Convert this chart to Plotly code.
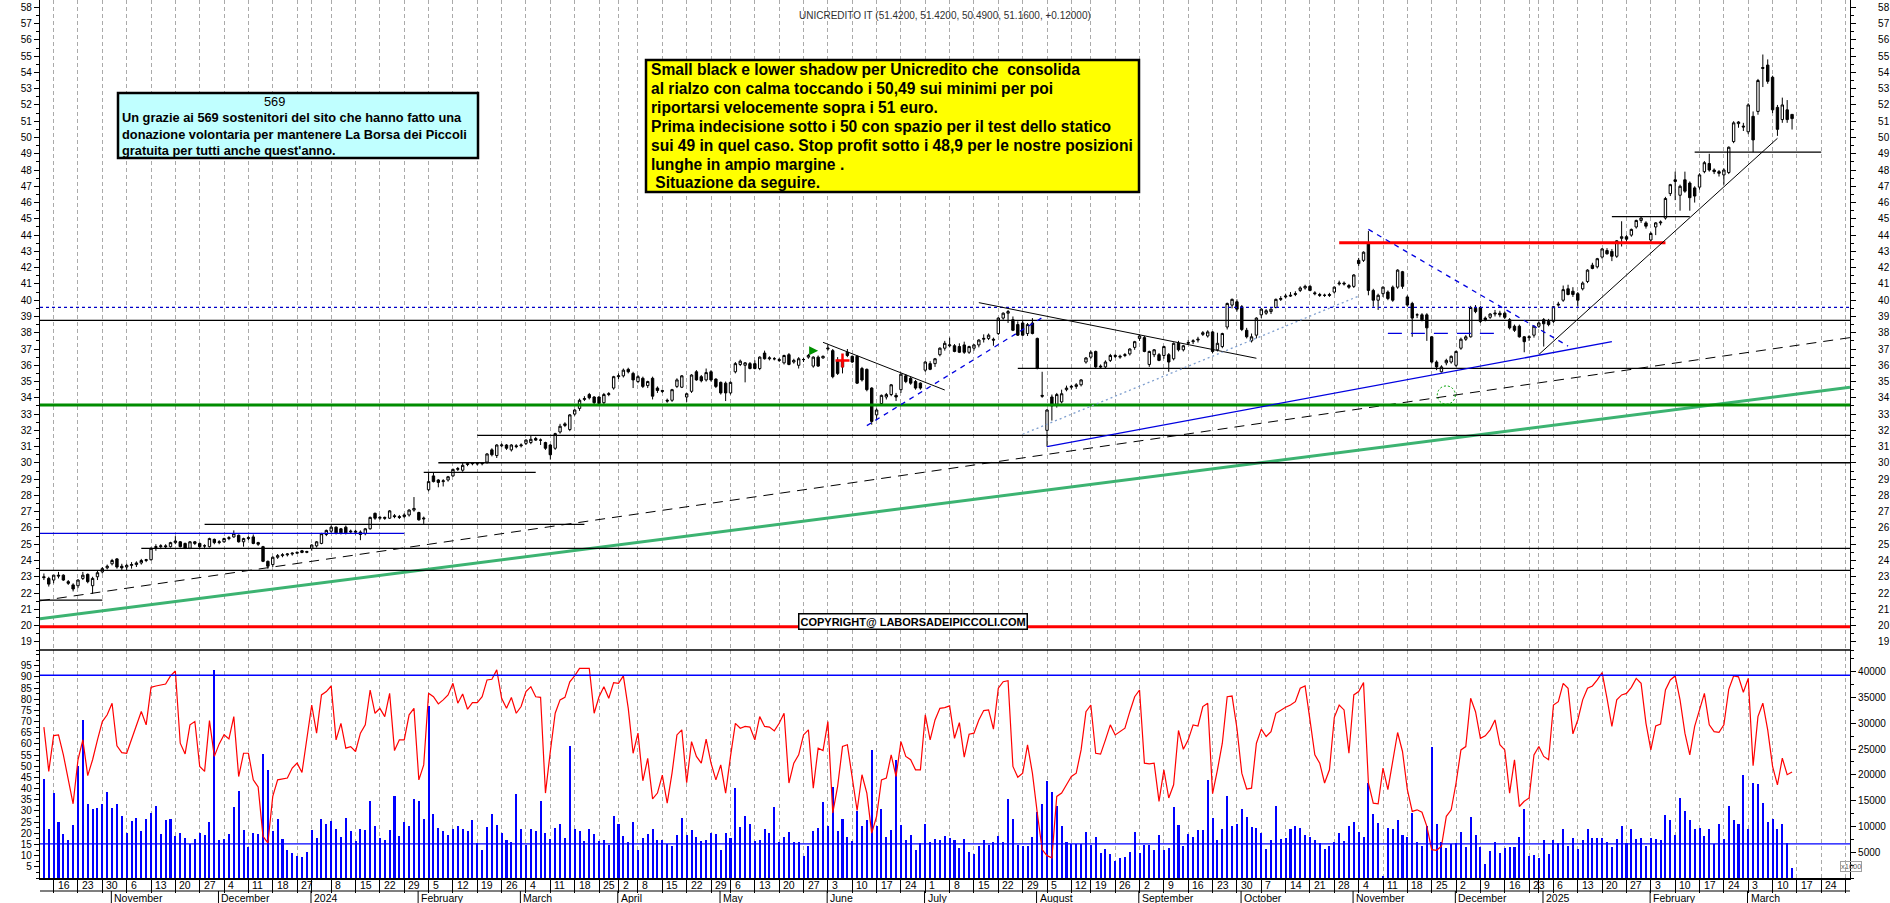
import numpy as np
import pandas as pd
import plotly.graph_objects as go

# ---------------------------------------------------------------- data
TITLE = "UNICREDITO IT (51.4200, 51.4200, 50.4900, 51.1600, +0.12000)"
HOLIDAYS = ["2023-12-25", "2023-12-26", "2024-01-01", "2024-03-29", "2024-04-01",
            "2024-05-01", "2024-08-15", "2024-12-24", "2024-12-25", "2024-12-26",
            "2024-12-31", "2025-01-01"]
FIRST_DAY, AXIS_END_DAY = "2023-10-12", "2025-03-31"

opens = [
    23.0, 22.9, 22.8, 23.1, 23.1, 22.7, 22.5, 22.45, 22.9, 23.15, 22.45, 23.0, 23.3, 23.55,
    23.8, 24.1, 23.65, 23.6, 23.7, 23.75, 23.85, 24.0, 24.05, 24.8, 24.85, 24.9, 24.85, 25.1, 25.15, 25.05, 24.75, 25.15, 25.05, 24.9, 24.85, 25.3,
    25.1, 25.15, 25.35, 25.45, 25.55, 25.15, 25.35, 25.45, 25.1, 24.85, 23.95, 23.75, 24.2, 24.3, 24.35, 24.4, 24.45, 24.6, 24.5,
    24.75, 24.9, 25.05, 25.6, 25.8, 26.05, 25.95, 26.05, 25.75, 25.8, 25.75, 25.65, 25.95, 26.9, 26.6, 26.65, 26.6, 26.75, 26.7, 26.7, 26.8, 27.1,
    26.95, 26.55, 28.35, 29.2, 28.95, 28.85, 28.95, 29.2, 29.6, 29.55, 29.9, 29.95, 29.95, 29.95, 30.05, 30.8, 30.45, 31.05, 31.1, 30.8, 31.05,
    31.05, 31.2, 31.25, 31.5, 31.4, 31.25, 31.1, 30.9, 31.9, 32.3, 32.05, 33.0, 33.35, 33.9, 34.2, 34.05, 34.05, 33.7, 34.2, 34.6,
    35.3, 35.35, 35.75, 35.5, 35.0, 35.2, 34.75, 35.2, 34.6, 34.45, 33.85, 33.85, 34.7, 34.65, 34.05, 34.4, 35.6, 35.3, 35.1, 35.6, 35.15,
    34.95, 34.9, 34.3, 35.6, 36.05, 36.0, 36.1, 36.1, 35.8, 36.75, 36.4, 36.4, 36.35, 36.15, 36.65, 36.2, 36.0, 36.35, 36.5, 35.95, 36.5, 36.45,
    37.0, 36.9, 36.3, 35.9, 36.8, 36.55, 36.55, 35.8, 35.75, 34.6, 32.95, 33.65, 34.05, 34.2, 34.15, 34.5, 35.35, 35.2, 35.0, 34.9,
    35.7, 36.1, 36.1, 36.65, 37.05, 37.2, 37.2, 37.15, 37.25, 36.8, 37.05, 37.25, 37.6, 37.65, 37.6, 37.95, 38.9, 39.2, 38.8, 38.5, 38.6, 37.95, 38.6,
    37.65, 34.15, 32.0, 34.05, 33.6, 33.75, 34.5, 34.65, 34.7, 34.8, 36.2, 36.5, 36.85, 35.95, 35.9, 36.3, 36.6, 36.5, 36.6, 36.7, 37.1,
    37.65, 37.7, 36.05, 36.65, 36.65, 36.6, 36.65, 36.4, 37.35, 36.95, 37.35, 37.45, 37.55, 37.9, 37.8, 38.05, 36.95, 37.15, 38.35, 39.7, 39.9,
    39.6, 38.15, 37.5, 37.85, 39.1, 39.2, 39.3, 39.55, 40.05, 40.2, 40.25, 40.35, 40.6, 40.75, 40.85, 40.45, 40.35, 40.3, 40.35, 40.5, 41.0, 41.05, 40.9,
    40.85, 42.45, 42.45, 43.5, 40.6, 40.0, 40.4, 40.5, 40.8, 40.8, 41.75, 40.2, 39.8, 39.1, 39.1, 39.1, 37.75, 36.2, 35.6, 36.15, 36.2,
    36.0, 37.05, 37.6, 37.75, 39.5, 39.55, 38.9, 38.95, 39.15, 39.2, 39.2, 38.8, 38.4, 38.4, 37.75, 37.7, 37.85, 38.4,
    38.8, 38.7, 38.7, 39.7, 40.0, 40.7, 40.55, 40.4, 40.7, 41.15, 42.15, 42.05, 42.65, 43.05, 43.0, 42.7, 43.8, 43.9, 44.0, 44.5, 44.9, 44.75,
    43.7, 44.5, 44.75, 45.05, 46.55, 47.4, 46.45, 47.4, 47.2, 46.9, 46.95, 47.9, 48.4, 48.0, 47.9, 47.7, 47.85, 49.75, 50.85, 50.7,
    50.35, 51.3, 51.6, 54.3, 54.45, 53.7, 51.85, 51.1, 51.7, 51.42,
]
highs = [
    23.2, 23.0, 23.1, 23.3, 23.15, 22.8, 22.6, 22.85, 23.3, 23.2, 23.0, 23.4, 23.6, 23.75,
    24.1, 24.15, 23.8, 23.8, 23.9, 23.95, 24.1, 24.1, 24.8, 25.0, 25.0, 25.0, 25.15, 25.5, 25.2, 25.1, 25.2, 25.2, 25.1, 25.0, 25.4, 25.35,
    25.25, 25.4, 25.5, 25.85, 25.6, 25.4, 25.5, 25.6, 25.15, 24.9, 24.0, 24.25, 24.4, 24.45, 24.45, 24.5, 24.55, 24.65, 24.6,
    25.0, 25.2, 25.7, 25.9, 26.15, 26.1, 26.0, 26.15, 25.9, 25.9, 25.85, 26.0, 26.7, 26.95, 26.75, 26.7, 27.1, 26.85, 26.8, 26.9, 27.15, 27.9,
    27.0, 26.7, 29.4, 29.4, 29.0, 29.0, 29.2, 29.65, 29.75, 30.0, 30.05, 30.05, 30.05, 30.0, 30.6, 30.9, 31.15, 31.2, 31.15, 31.15, 31.15,
    31.2, 31.45, 31.7, 31.6, 31.5, 31.3, 31.15, 31.85, 32.4, 32.5, 33.0, 33.3, 33.95, 34.1, 34.3, 34.1, 34.1, 34.3, 34.35, 35.35,
    35.5, 35.8, 35.85, 35.6, 35.4, 35.3, 35.05, 35.3, 34.7, 34.5, 33.95, 34.55, 35.2, 35.4, 34.3, 35.45, 35.7, 35.4, 35.8, 35.7, 35.2,
    35.0, 35.0, 35.0, 36.2, 36.35, 36.2, 36.2, 36.3, 36.55, 36.9, 36.55, 36.5, 36.45, 36.65, 36.75, 36.4, 36.5, 36.45, 36.7, 36.55, 36.6, 36.6,
    37.25, 37.0, 36.5, 36.4, 37.0, 36.6, 36.6, 35.9, 35.8, 34.65, 33.35, 34.2, 34.3, 34.85, 34.3, 35.5, 35.45, 35.3, 35.1, 34.95,
    36.25, 36.25, 36.45, 37.1, 37.5, 37.7, 37.3, 37.35, 37.45, 37.2, 37.3, 37.6, 37.9, 37.95, 37.7, 38.95, 39.25, 39.4, 39.0, 38.7, 38.8, 38.6, 38.9,
    37.7, 35.6, 33.3, 34.2, 34.3, 34.5, 34.75, 34.8, 34.9, 35.15, 36.5, 36.9, 36.9, 36.05, 36.3, 36.7, 36.7, 36.65, 36.75, 37.05, 37.5,
    37.9, 37.8, 36.9, 37.0, 36.75, 37.2, 36.75, 37.4, 37.5, 37.25, 37.55, 37.6, 37.75, 38.1, 38.15, 38.1, 38.0, 38.0, 39.85, 40.1, 40.05,
    39.7, 38.3, 37.95, 38.95, 39.5, 39.45, 39.5, 40.1, 40.25, 40.4, 40.5, 40.55, 40.85, 40.95, 40.95, 40.55, 40.45, 40.4, 40.45, 40.85, 41.2, 41.15, 41.0,
    41.6, 42.6, 43.0, 44.25, 40.7, 40.4, 40.85, 40.6, 40.9, 41.9, 41.8, 40.3, 39.9, 39.2, 39.2, 39.2, 37.8, 36.3, 36.0, 36.4, 36.6,
    36.9, 37.7, 37.85, 39.65, 39.7, 39.65, 39.0, 39.2, 39.4, 39.35, 39.3, 38.9, 38.5, 38.5, 37.8, 37.85, 38.45, 38.7,
    38.9, 38.85, 39.65, 39.9, 40.9, 40.95, 40.8, 40.5, 41.15, 41.9, 42.3, 42.6, 43.2, 43.2, 43.15, 43.7, 44.85, 44.0, 44.4, 44.95, 45.1, 44.85,
    44.2, 44.8, 44.9, 46.35, 47.15, 47.9, 47.1, 47.9, 47.3, 47.0, 47.8, 48.55, 49.0, 48.1, 48.0, 48.1, 49.45, 51.0, 51.0, 50.9,
    52.1, 51.6, 53.6, 55.1, 54.8, 53.8, 52.0, 52.45, 52.3, 51.42,
]
lows = [
    22.8, 22.4, 22.6, 22.9, 22.75, 22.5, 22.1, 22.3, 22.8, 22.6, 21.95, 22.8, 23.2, 23.45,
    23.7, 23.5, 23.4, 23.35, 23.5, 23.6, 23.75, 23.9, 24.0, 24.6, 24.7, 24.75, 24.8, 25.0, 24.8, 24.7, 24.7, 24.95, 24.75, 24.7, 24.8, 25.0,
    25.0, 25.1, 25.25, 25.4, 25.1, 24.85, 25.25, 25.0, 24.9, 23.9, 23.5, 23.6, 24.1, 24.2, 24.25, 24.3, 24.4, 24.45, 24.45,
    24.6, 24.8, 25.0, 25.5, 25.7, 25.6, 25.6, 25.6, 25.65, 25.6, 25.25, 25.55, 25.9, 26.5, 26.5, 26.5, 26.55, 26.6, 26.55, 26.6, 26.7, 27.0,
    26.45, 26.25, 28.25, 28.8, 28.5, 28.55, 28.85, 29.15, 29.5, 29.45, 29.8, 29.85, 29.85, 29.85, 29.95, 30.4, 30.3, 30.95, 30.8, 30.7, 30.9,
    30.95, 31.1, 31.15, 31.35, 31.1, 30.8, 30.2, 30.8, 31.8, 32.2, 31.95, 32.9, 33.2, 33.8, 33.9, 33.6, 33.6, 33.6, 34.1, 34.5,
    35.15, 35.25, 35.5, 34.6, 34.9, 34.6, 34.6, 33.9, 34.3, 34.3, 33.7, 33.75, 34.6, 34.6, 33.75, 34.3, 35.05, 34.95, 35.0, 35.0, 34.6,
    34.2, 33.8, 34.2, 35.5, 35.95, 34.95, 35.75, 35.75, 35.7, 36.35, 36.3, 36.3, 36.2, 36.05, 36.0, 36.1, 35.8, 36.2, 36.4, 35.85, 35.9, 36.4,
    36.9, 35.2, 35.4, 35.5, 36.5, 36.15, 34.85, 35.0, 34.4, 32.35, 32.7, 33.6, 33.9, 34.1, 33.8, 34.3, 34.9, 34.8, 34.5, 34.5,
    35.6, 35.7, 35.9, 36.55, 36.9, 37.1, 36.8, 36.75, 36.7, 36.7, 36.9, 37.1, 37.4, 37.55, 37.2, 37.85, 38.8, 38.6, 38.1, 37.8, 37.8, 37.8, 37.9,
    35.75, 34.0, 31.0, 32.6, 33.4, 33.65, 34.4, 34.5, 34.55, 34.7, 36.1, 36.4, 35.8, 35.8, 35.8, 36.2, 36.45, 36.4, 36.5, 36.6, 36.95,
    37.5, 36.8, 35.9, 36.5, 36.25, 36.4, 35.6, 36.3, 36.85, 36.85, 37.25, 37.3, 37.4, 37.8, 37.7, 36.75, 36.85, 37.05, 38.2, 39.5, 39.3,
    38.1, 37.65, 37.4, 37.65, 38.9, 39.1, 39.15, 39.5, 39.95, 40.1, 40.2, 40.25, 40.5, 40.65, 40.55, 40.3, 40.2, 40.2, 40.2, 40.4, 40.9, 40.9, 40.7,
    40.75, 42.1, 42.35, 40.3, 39.6, 39.4, 40.2, 40.0, 39.9, 40.7, 40.7, 39.6, 37.75, 38.9, 38.7, 37.5, 36.1, 35.7, 35.55, 36.0, 36.1,
    35.9, 36.95, 37.5, 37.7, 39.2, 38.6, 38.7, 38.85, 39.0, 38.95, 38.85, 38.2, 38.05, 37.7, 36.8, 37.5, 37.7, 38.3,
    37.15, 38.4, 38.6, 39.6, 39.9, 40.3, 40.2, 39.6, 40.6, 41.05, 41.9, 41.95, 42.55, 42.8, 42.4, 42.6, 43.3, 43.6, 43.9, 44.4, 44.75, 44.4,
    43.5, 44.0, 44.6, 44.95, 46.4, 46.15, 45.5, 46.6, 45.5, 46.0, 46.8, 47.8, 47.9, 47.75, 47.6, 47.1, 47.75, 49.65, 50.6, 50.4,
    50.2, 49.1, 51.4, 53.1, 53.3, 51.5, 50.1, 50.9, 50.9, 50.49,
]
closes = [
    22.95, 22.55, 23.1, 23.05, 22.8, 22.6, 22.25, 22.8, 23.1, 22.7, 22.9, 23.25, 23.5, 23.65,
    24.0, 23.6, 23.55, 23.7, 23.75, 23.85, 24.0, 24.05, 24.75, 24.85, 24.9, 24.85, 25.1, 25.2, 24.85, 24.75, 25.15, 25.05, 24.85, 24.9, 25.35, 25.1,
    25.15, 25.35, 25.4, 25.65, 25.15, 25.35, 25.4, 25.05, 25.0, 23.95, 23.65, 24.2, 24.3, 24.35, 24.4, 24.45, 24.5, 24.5, 24.55,
    24.95, 25.15, 25.65, 25.85, 26.05, 25.7, 25.7, 25.7, 25.8, 25.75, 25.6, 25.95, 26.65, 26.6, 26.65, 26.6, 27.05, 26.7, 26.65, 26.8, 27.1, 27.2,
    26.5, 26.6, 28.85, 28.85, 28.8, 28.9, 29.15, 29.6, 29.65, 29.85, 29.95, 29.97, 29.95, 29.98, 30.55, 30.5, 31.1, 31.1, 30.9, 31.1, 31.0,
    31.1, 31.4, 31.45, 31.4, 31.4, 30.9, 30.5, 31.8, 32.25, 32.4, 32.95, 33.25, 33.85, 33.95, 34.0, 33.7, 33.65, 34.2, 34.25, 35.3,
    35.35, 35.7, 35.6, 35.1, 35.3, 34.7, 35.0, 34.1, 34.45, 34.4, 33.8, 34.5, 35.1, 35.35, 34.25, 35.4, 35.1, 35.05, 35.55, 35.1, 34.7,
    34.3, 34.3, 34.95, 36.1, 36.25, 36.15, 35.8, 35.8, 36.5, 36.4, 36.45, 36.4, 36.3, 36.6, 36.05, 36.3, 36.4, 36.35, 36.6, 36.5, 35.95, 36.55,
    37.05, 35.3, 35.5, 36.3, 36.6, 36.2, 34.9, 35.1, 34.5, 32.55, 33.25, 34.15, 34.2, 34.8, 34.05, 35.45, 35.0, 34.9, 34.6, 34.6,
    36.2, 35.75, 36.4, 37.05, 37.35, 37.25, 36.85, 36.8, 36.8, 37.15, 37.25, 37.55, 37.65, 37.85, 37.55, 38.9, 39.2, 39.3, 38.15, 37.85, 37.85, 38.5, 37.95,
    35.8, 34.1, 33.25, 33.5, 34.2, 34.25, 34.6, 34.7, 34.8, 35.1, 36.45, 36.8, 35.9, 35.9, 36.2, 36.6, 36.55, 36.55, 36.65, 37.0, 37.45,
    37.8, 36.85, 36.85, 36.95, 36.3, 37.15, 36.2, 37.35, 36.95, 37.2, 37.4, 37.5, 37.6, 38.0, 38.05, 36.85, 37.35, 37.95, 39.8, 40.05, 39.45,
    38.2, 37.75, 37.75, 38.9, 39.45, 39.35, 39.45, 40.05, 40.1, 40.25, 40.3, 40.4, 40.75, 40.85, 40.6, 40.4, 40.3, 40.3, 40.3, 40.8, 41.05, 41.0, 40.8,
    41.55, 42.25, 42.95, 40.6, 40.0, 40.3, 40.8, 40.1, 40.0, 41.85, 40.85, 39.7, 38.9, 39.1, 38.8, 38.3, 36.2, 35.9, 35.9, 36.3, 36.55,
    36.85, 37.6, 37.75, 39.55, 39.3, 38.7, 38.8, 39.15, 39.2, 39.1, 38.95, 38.3, 38.15, 37.75, 37.45, 37.75, 38.4, 38.6,
    38.55, 38.5, 39.6, 39.75, 40.65, 40.35, 40.35, 40.0, 41.05, 41.85, 41.95, 42.55, 43.15, 42.85, 42.7, 43.65, 43.9, 43.75, 44.35, 44.9, 45.05, 44.55,
    44.1, 44.75, 44.8, 46.25, 47.1, 47.3, 47.0, 46.7, 46.3, 46.4, 47.7, 48.45, 48.0, 47.9, 47.8, 48.0, 49.4, 50.9, 50.95, 50.65,
    52.0, 49.85, 53.5, 54.25, 53.45, 51.7, 50.5, 52.0, 51.1, 51.16,
]
volumes = [  # thousands of shares
    19100, 9550, 16500, 10850, 8550, 7460, 10290, 21700, 30680, 14320, 13370, 13580, 14410, 16670,
    13580, 14410, 12110, 8720, 11110, 11630, 9070, 11500, 12670, 13890, 8550, 11330, 11500, 8070, 8720, 7770, 6600, 7600, 8720, 8250, 10810, 40360,
    7330, 7600, 8550, 13760, 16930, 9370, 5950, 8720, 8550, 24090, 20880, 9070, 11500, 7600, 5510, 4860, 4340, 4080, 5080,
    9370, 7770, 11460, 10460, 10980, 9500, 7900, 11630, 9070, 7120, 9500, 9240, 15020, 10160, 7770, 7460, 9370, 15840, 8070, 10850, 10030, 15320,
    14930, 11460, 33420, 12410, 9720, 9200, 8420, 9500, 10030, 9500, 9070, 11200, 6810, 5380, 9850, 12410, 10370, 8720, 7460, 6940, 16280,
    9500, 6470, 9500, 9070, 15020, 8720, 7640, 9720, 10550, 7770, 25520, 9500, 9200, 7120, 9500, 8550, 7120, 7460, 6340, 11980,
    10550, 8070, 6990, 10850, 5510, 7770, 8550, 9500, 7460, 7460, 6600, 6290, 8250, 11590, 8420, 9370, 7940, 7120, 7330, 8720, 8550,
    5380, 8720, 7810, 17450, 9900, 12110, 10460, 7120, 7460, 9500, 8720, 13760, 6990, 7900, 8940, 6990, 6990, 4210, 6160, 9200, 9720, 14760,
    10160, 17660, 9200, 11460, 7940, 7120, 12930, 10030, 11330, 24870, 10030, 13370, 7940, 9370, 22960, 10240, 7460, 8250, 5510, 6810,
    10460, 6990, 7600, 7460, 8070, 7770, 7460, 5820, 7600, 4990, 4730, 6290, 7460, 6340, 6940, 8070, 6990, 15410, 11460, 6340, 6290, 6290, 7940,
    12800, 14320, 18750, 16670, 14020, 10160, 6990, 6600, 6600, 6600, 8940, 6470, 7940, 4860, 5640, 4560, 3390, 3910, 4080, 4990, 8940,
    4860, 6470, 6470, 5510, 8290, 5510, 5820, 13760, 10370, 6290, 8550, 7940, 9370, 9370, 18920, 11630, 7460, 9500, 15840, 10160, 10550,
    13370, 11850, 9970, 9650, 8680, 5570, 7380, 13970, 7580, 7710, 9450, 10160, 9650, 8350, 7900, 7380, 6740, 5640, 6280, 6930, 8680, 7190, 10100,
    10940, 8870, 8030, 18490, 12360, 10740, 400, 9770, 9520, 11260, 8290, 8030, 12680, 6930, 6220, 10160, 25470, 10420, 6930, 5770, 6540,
    6860, 9000, 6090, 11780, 8350, 6090, 2730, 5310, 6930, 4800, 5770, 6090, 6090, 8030, 13390, 4350, 4480, 3830,
    7380, 4670, 7380, 6860, 9450, 6280, 7710, 5640, 7380, 9520, 7840, 7710, 7840, 6930, 5960, 7580, 10160, 6740, 9450, 7580, 7710, 6280,
    7840, 7580, 7380, 12230, 11260, 8350, 15460, 13070, 11260, 9450, 9650, 8220, 9450, 6540, 10400, 7600, 14000, 11300, 10400, 20000,
    9500, 18500, 18200, 14500, 10900, 11400, 9500, 10400, 6700, 2000,
]
oscillator = [
    67.5, 47.7, 63.7, 64.0, 55.1, 44.0, 33.2, 52.9, 61.8, 45.8, 52.9, 61.8, 70.0, 73.0,
    78.2, 59.1, 56.1, 55.8, 61.8, 68.5, 74.5, 68.5, 85.3, 85.9, 86.4, 86.8, 90.4, 92.6, 60.3, 55.5, 68.5, 70.0, 49.9, 47.7, 70.4, 54.4,
    60.0, 64.1, 62.2, 72.2, 45.4, 55.8, 55.8, 43.9, 40.7, 18.6, 15.7, 36.5, 43.9, 44.2, 44.7, 49.2, 51.4, 47.2, 63.3,
    77.4, 64.8, 81.9, 83.4, 85.9, 61.8, 69.2, 58.1, 58.8, 56.6, 64.8, 68.5, 84.1, 73.7, 75.9, 72.2, 82.6, 57.0, 61.8, 61.8, 73.0, 75.9,
    43.9, 50.6, 82.6, 81.1, 77.9, 79.7, 81.9, 87.1, 78.2, 82.3, 75.5, 78.5, 78.5, 81.1, 88.6, 88.9, 93.1, 80.4, 75.9, 80.8, 73.7,
    76.7, 83.4, 85.6, 81.1, 80.8, 38.0, 56.6, 73.7, 79.7, 80.8, 87.8, 90.4, 93.8, 93.8, 93.8, 73.7, 81.1, 85.6, 80.4, 87.4,
    87.1, 90.4, 76.0, 55.8, 64.8, 43.5, 53.5, 35.4, 38.0, 46.0, 33.5, 47.0, 64.0, 66.3, 42.6, 61.0, 54.4, 51.4, 62.1, 51.4, 43.9,
    50.6, 38.0, 54.4, 69.2, 67.0, 67.8, 67.5, 61.8, 72.2, 67.8, 67.5, 65.8, 69.2, 73.7, 42.5, 51.4, 55.1, 64.0, 66.3, 40.2, 58.1, 57.0,
    70.0, 29.1, 41.0, 58.8, 59.6, 43.9, 30.2, 46.2, 38.0, 20.1, 27.6, 43.9, 44.7, 55.1, 45.4, 61.0, 54.4, 52.9, 48.4, 48.4,
    73.0, 61.8, 70.7, 75.9, 76.2, 77.0, 62.5, 69.5, 54.1, 64.3, 64.8, 70.7, 74.9, 75.2, 66.6, 84.9, 87.8, 88.3, 49.9, 45.1, 46.9, 59.6, 46.9,
    29.1, 12.7, 10.0, 9.0, 36.5, 38.0, 41.7, 45.4, 46.9, 57.3, 74.4, 77.4, 55.8, 55.4, 61.8, 68.5, 64.0, 65.5, 67.0, 74.4, 81.1,
    84.1, 51.4, 51.1, 51.4, 34.3, 48.4, 35.8, 41.7, 66.0, 57.6, 61.8, 68.5, 68.0, 76.7, 78.2, 37.7, 48.4, 60.3, 81.1, 81.4, 67.0,
    46.9, 39.8, 40.2, 60.3, 66.6, 63.3, 65.5, 73.7, 75.2, 76.4, 77.4, 78.9, 84.9, 85.9, 70.7, 55.1, 51.4, 42.5, 48.4, 71.9, 77.4, 75.2, 55.8,
    81.9, 83.4, 87.4, 42.5, 33.5, 33.2, 49.2, 39.5, 51.4, 65.1, 56.6, 39.5, 29.8, 30.5, 29.4, 23.1, 12.7, 12.4, 14.2, 27.6, 30.5,
    42.5, 57.3, 58.8, 80.4, 74.4, 62.5, 63.6, 66.3, 70.7, 59.6, 57.3, 38.0, 52.9, 32.0, 34.3, 35.8, 55.1, 58.8,
    54.4, 52.9, 77.4, 78.9, 87.1, 84.9, 64.5, 70.7, 79.7, 84.9, 85.9, 88.6, 91.9, 80.4, 67.8, 79.7, 81.9, 82.6, 85.3, 89.3, 87.1, 69.2,
    57.3, 68.0, 68.9, 84.1, 88.6, 90.4, 79.7, 64.8, 55.1, 67.8, 75.2, 82.6, 68.5, 65.5, 65.2, 68.5, 84.4, 90.4, 90.0, 83.1,
    89.3, 50.2, 72.2, 78.2, 66.3, 49.9, 41.7, 53.6, 46.2, 47.4,
]
osc_levels = [90.7, 15.3]

# analyst lines: horizontal levels (price, from, to); None = chart edge
level_black = [(38.76, None, None), (23.40, None, None), (31.69, "2024-02-19", None),
               (30.01, "2024-02-07", None), (29.42, "2024-02-02", "2024-03-06"),
               (26.22, "2023-11-28", "2024-03-20"), (24.75, "2023-11-09", None),
               (21.57, None, "2023-10-30"), (35.81, "2024-07-26", None),
               (45.13, "2025-01-22", "2025-02-13"), (49.10, "2025-02-14", "2025-03-24")]
level_blue = [(25.67, None, "2024-01-29")]
level_blue_dotted = [(39.56, None, None)]
level_blue_dashed = [(37.96, "2024-11-12", "2024-12-13")]
level_green = [(33.56, None, None)]
level_red = [(19.93, None, None), (43.53, "2024-10-29", "2025-02-06")]
# sloped lines (from, price, to, price)
trend_black = [("2024-05-31", 37.41, "2024-07-05", 34.48), ("2024-07-16", 39.85, "2024-10-04", 36.43),
               ("2024-12-30", 36.66, "2025-03-11", 49.95)]
trend_blue = [("2024-08-05", 31.00, "2025-01-22", 37.45)]
trend_blue_dashed = [("2024-06-13", 32.29, "2024-08-02", 38.93), ("2024-11-06", 44.35, "2025-01-09", 37.18)]
trend_dotted = [("2024-07-29", 31.76, "2024-11-04", 40.25)]
channel_dashed = [("2023-10-13", 21.60, "2025-03-31", 37.66)]
channel_green = [("2023-10-12", 20.45, "2025-03-31", 34.61)]
mark_circle = [("2024-11-28", 34.17)]
mark_arrow = [("2024-05-30", 36.9)]
mark_cross = [("2024-06-06", 36.3)]

NOTE_569 = ["569", "Un grazie ai 569 sostenitori del sito che hanno fatto una",
            "donazione volontaria per mantenere La Borsa dei Piccoli",
            "gratuita per tutti anche quest'anno."]
NOTE_MAIN = ["Small black e lower shadow per Unicredito che  consolida",
             "al rialzo con calma toccando i 50,49 sui minimi per poi",
             "riportarsi velocemente sopra i 51 euro.",
             "Prima indecisione sotto i 50 con spazio per il test dello statico",
             "sui 49 in quel caso. Stop profit sotto i 48,9 per le nostre posizioni",
             "lunghe in ampio margine .",
             " Situazione da seguire."]
COPYRIGHT = "COPYRIGHT@ LABORSADEIPICCOLI.COM"
MONTHS = ["", "January", "February", "March", "April", "May", "June", "July",
          "August", "September", "October", "November", "December"]

# ---------------------------------------------------------------- calendar
bdays = pd.bdate_range(FIRST_DAY, AXIS_END_DAY)
cal = bdays[~bdays.isin(pd.to_datetime(HOLIDAYS))]
pos = {d.strftime("%Y-%m-%d"): i for i, d in enumerate(cal)}
N = len(closes)
idx = np.arange(N)
assert len(opens) == len(highs) == len(lows) == N == len(volumes) == len(oscillator)

W, H = 1890, 903
ML, MR, MT, MB = 40, 40, 0, 25
PW, PH = W - ML - MR, H - MT - MB
SPLIT = 650  # px: bottom of price pane
X_RANGE = [-0.8, 370.9]
P_RANGE = [18.50, 58.45]
O_RANGE = [0, 102.0]
V_RANGE = [0, 44205]
dom_split = 1 - SPLIT / PH


def px_x(p):
    return (p - ML) / PW


def px_y(p):
    return 1 - (p - MT) / PH


FONT_AX = "Liberation Sans, Arial, sans-serif"
FONT_NOTE = "Liberation Sans, Arial, sans-serif"

fig = go.Figure()
fig.add_trace(go.Candlestick(
    x=idx, open=opens, high=highs, low=lows, close=closes, xaxis="x", yaxis="y",
    increasing=dict(line=dict(color="black", width=1), fillcolor="white"),
    decreasing=dict(line=dict(color="black", width=1), fillcolor="black"),
    whiskerwidth=0, showlegend=False, hoverinfo="skip"))
fig.add_trace(go.Scatter(x=[X_RANGE[1]], y=[P_RANGE[0]], xaxis="x", yaxis="y2", mode="markers",
                         marker=dict(opacity=0), showlegend=False, hoverinfo="skip"))
fig.add_trace(go.Bar(x=idx, y=volumes, width=0.42, marker=dict(color="#0000ff", line=dict(width=0)),
                     xaxis="x2", yaxis="y3", showlegend=False, hoverinfo="skip"))
fig.add_trace(go.Scatter(x=idx, y=oscillator, mode="lines", line=dict(color="#ff0000", width=1.2),
                         xaxis="x2", yaxis="y4", showlegend=False, hoverinfo="skip"))

# markers
fig.add_trace(go.Scatter(x=[pos[d] for d, _ in mark_arrow], y=[p for _, p in mark_arrow], mode="markers",
                         marker=dict(symbol="arrow-right", size=9, color="#009000"),
                         xaxis="x", yaxis="y", showlegend=False, hoverinfo="skip"))
fig.add_trace(go.Scatter(x=[pos[d] for d, _ in mark_cross], y=[p for _, p in mark_cross], mode="markers",
                         marker=dict(symbol="cross-thin", size=10, line=dict(color="#ff0000", width=2.5)),
                         xaxis="x", yaxis="y", showlegend=False, hoverinfo="skip"))

shapes = []
annotations = []


def xa(d, edge):
    return X_RANGE[edge] if d is None else pos[d]


def add_levels(levels, color, width, dash="solid"):
    for price, d0, d1 in levels:
        shapes.append(dict(type="line", xref="x", yref="y", x0=xa(d0, 0), x1=xa(d1, 1),
                           y0=price, y1=price, line=dict(color=color, width=width, dash=dash)))


def add_trends(lines, color, width, dash="solid", extend=False):
    for d0, p0, d1, p1 in lines:
        x0, x1 = pos[d0], pos[d1]
        if extend:
            k = (p1 - p0) / (x1 - x0)
            p0, p1 = p0 + k * (X_RANGE[0] - x0), p0 + k * (X_RANGE[1] - x0)
            x0, x1 = X_RANGE
        shapes.append(dict(type="line", xref="x", yref="y", x0=x0, x1=x1, y0=p0, y1=p1,
                           line=dict(color=color, width=width, dash=dash)))


add_trends(channel_green, "#3cb371", 3, extend=True)
add_trends(channel_dashed, "black", 1, "10px,7px", extend=True)
add_levels(level_black, "black", 1.3)
add_levels(level_blue, "#0000e0", 1.3)
add_levels(level_blue_dotted, "#0000c8", 1.3, "3px,3px")
add_levels(level_blue_dashed, "#0000e0", 1.3, "14px,9px")
add_levels(level_green, "#008c00", 3)
add_levels(level_red, "#ff0000", 3)
add_trends(trend_black, "black", 1)
add_trends(trend_blue, "#0000e0", 1.3)
add_trends(trend_blue_dashed, "#0000e0", 1.3, "5px,5px")
add_trends(trend_dotted, "#7f9fcf", 1.3, "2px,3px")
for d, p in mark_circle:
    shapes.append(dict(type="circle", xref="x", yref="y", x0=pos[d] - 1.85, x1=pos[d] + 1.85,
                       y0=p - 0.56, y1=p + 0.56, line=dict(color="#00a000", width=1, dash="2px,2px")))
for lv in osc_levels:
    shapes.append(dict(type="line", xref="paper", yref="y4", x0=0, x1=1, y0=lv, y1=lv,
                       line=dict(color="#0000ff", width=1.3)))

# pane separator
shapes.append(dict(type="line", xref="paper", yref="paper", x0=0, x1=1, y0=dom_split, y1=dom_split,
                   line=dict(color="black", width=1.5)))

# date strip
week_starts = [i for i in range(1, len(cal))
               if cal[i].isocalendar().week != cal[i - 1].isocalendar().week]
month_starts = [i for i in range(1, len(cal)) if cal[i].month != cal[i - 1].month]
y_row = px_y(891)
shapes.append(dict(type="line", xref="paper", yref="paper", x0=0, x1=1, y0=y_row, y1=y_row,
                   line=dict(color="black", width=1.2)))
for i in month_starts:
    shapes.append(dict(type="line", xref="x", yref="paper", x0=i - 0.15, x1=i - 0.15,
                       y0=y_row, y1=px_y(903), line=dict(color="black", width=1)))
    d = cal[i]
    annotations.append(dict(x=i - 0.15, y=px_y(897.5), xref="x", yref="paper", xanchor="left",
                            yanchor="middle", xshift=1, showarrow=False,
                            text=str(d.year) if d.month == 1 else MONTHS[d.month],
                            font=dict(family=FONT_AX, size=10.5, color="black")))
for i in week_starts:
    d = cal[i]
    monday = d - pd.Timedelta(days=d.weekday())
    week_days = [monday + pd.Timedelta(days=k) for k in range(5)]
    if any(w.month == 1 and w.day == 1 for w in week_days) or i >= len(cal) - 1:
        continue
    annotations.append(dict(x=i, y=px_y(884.7), xref="x", yref="paper", xanchor="left",
                            yanchor="middle", xshift=2, showarrow=False, text=str(d.day),
                            font=dict(family=FONT_AX, size=10.5, color="black")))

# title
annotations.append(dict(x=px_x(945), y=px_y(8), xref="paper", yref="paper", showarrow=False,
                        text=TITLE, font=dict(family=FONT_AX, size=10, color="#303030")))

# 569 note
shapes.append(dict(type="rect", xref="paper", yref="paper", x0=px_x(118), x1=px_x(478),
                   y0=px_y(158), y1=px_y(93), fillcolor="#c0ffff", line=dict(color="black", width=2.5)))
annotations.append(dict(x=px_x(274), y=px_y(101), xref="paper", yref="paper", showarrow=False,
                        text=NOTE_569[0], xanchor="center", yanchor="middle",
                        font=dict(family=FONT_NOTE, size=12.8, color="black")))
for k, line in enumerate(NOTE_569[1:]):
    annotations.append(dict(x=px_x(120), y=px_y(117.7 + 16.5 * k), xref="paper", yref="paper",
                            showarrow=False, text="<b>" + line + "</b>", xanchor="left", yanchor="middle",
                            font=dict(family=FONT_NOTE, size=12.8, color="black")))

# main comment
shapes.append(dict(type="rect", xref="paper", yref="paper", x0=px_x(646), x1=px_x(1139),
                   y0=px_y(192), y1=px_y(60), fillcolor="#ffff00", line=dict(color="black", width=2.5)))
for k, line in enumerate(NOTE_MAIN):
    annotations.append(dict(x=px_x(649), y=px_y(69.5 + 18.9 * k), xref="paper", yref="paper",
                            showarrow=False, text="<b>" + line.replace(" ", "&nbsp;") + "</b>",
                            xanchor="left", yanchor="middle",
                            font=dict(family=FONT_NOTE, size=15.6, color="black")))

# copyright
annotations.append(dict(x=px_x(912.5), y=px_y(629.5), xref="paper", yref="paper", showarrow=False,
                        text="<b>" + COPYRIGHT + "</b>", bgcolor="white", bordercolor="black",
                        borderwidth=1.5, borderpad=1,
                        font=dict(family=FONT_AX, size=11, color="black")))
# x1000 marker
annotations.append(dict(x=px_x(1862), y=px_y(872), xref="paper", yref="paper", showarrow=False,
                        text="x1000", bordercolor="#a0a0a0", borderwidth=1, borderpad=0,
                        font=dict(family=FONT_AX, size=7.5, color="#606060")))

grid = dict(showgrid=True, gridcolor="#aaaaaa", griddash="4px,3px", gridwidth=1, automargin=False,
            tickmode="array", tickvals=week_starts, range=X_RANGE, zeroline=False)
yax = dict(showline=True, linecolor="black", linewidth=1.2, ticks="outside", ticklen=5,
           tickcolor="black", showgrid=False, zeroline=False, automargin=False,
           tickfont=dict(family=FONT_AX, size=10, color="black"))

fig.update_layout(
    template="none",
    width=W, height=H, margin=dict(l=ML, r=MR, t=MT, b=MB, autoexpand=False),
    font=dict(family=FONT_AX, color="black"),
    paper_bgcolor="white", plot_bgcolor="white", showlegend=False, bargap=0,
    xaxis=dict(**grid, domain=[0, 1], anchor="y", showticklabels=False, ticks="",
               rangeslider=dict(visible=False)),
    xaxis2=dict(**grid, domain=[0, 1], anchor="y3", matches="x", showticklabels=False,
                ticks="outside", ticklen=13, tickcolor="black", showline=True, linecolor="black",
                linewidth=1.5),
    yaxis=dict(**yax, domain=[dom_split, 1], anchor="x", range=P_RANGE, tickmode="linear",
               tick0=19, dtick=1, minor=dict(ticks="outside", ticklen=3, dtick=0.5, tickcolor="black")),
    yaxis2=dict(**yax, overlaying="y", side="right", anchor="x", range=P_RANGE, tickmode="linear",
                tick0=19, dtick=1, ticklabelstandoff=20,
                minor=dict(ticks="outside", ticklen=3, dtick=0.5, tickcolor="black")),
    yaxis3=dict(**yax, domain=[0, dom_split], anchor="x2", side="right", range=V_RANGE,
                tickmode="array", tickvals=list(range(5000, 40001, 5000)), tickformat="d",
                minor=dict(ticks="outside", ticklen=3, dtick=2500, tickcolor="black")),
    yaxis4=dict(**yax, overlaying="y3", side="left", anchor="x2", range=O_RANGE,
                tickmode="array", tickvals=list(range(5, 96, 5)),
                minor=dict(ticks="outside", ticklen=3, dtick=2.5, tickcolor="black")),
    shapes=shapes, annotations=annotations,
)

fig.write_html("out.html", config={"displayModeBar": False},
               post_script="document.body.style.margin='0px';document.body.style.overflow='hidden';")
